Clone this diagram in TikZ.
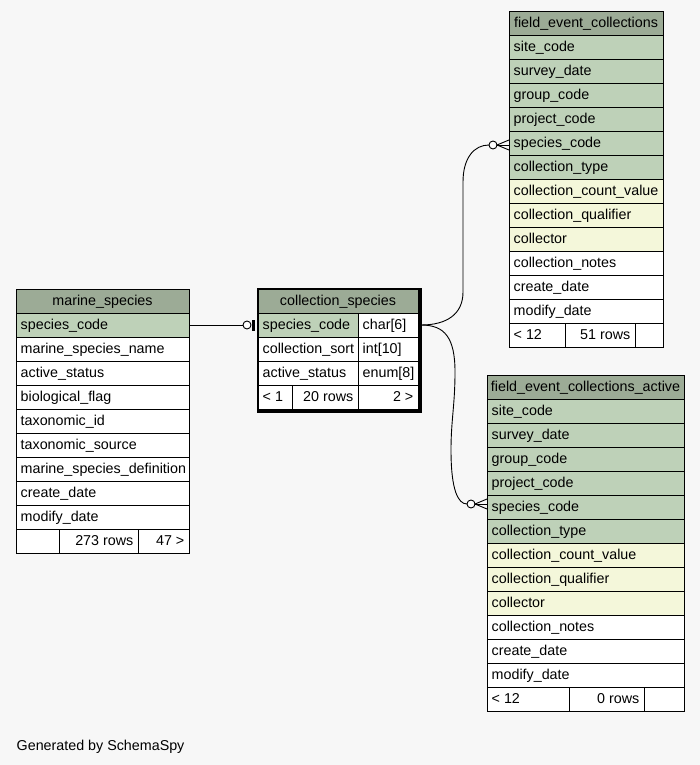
\documentclass[tikz,border=0pt]{standalone}
\usepackage{fontspec}
\setmainfont{Liberation Sans}
\definecolor{bgc}{HTML}{F7F7F7}
\definecolor{headc}{HTML}{9CAB96}
\definecolor{keyc}{HTML}{BED1B8}
\definecolor{idxc}{HTML}{F4F7DA}
\tikzset{
 cell/.style={draw=black, line width=0.8pt, minimum height=24pt, inner sep=0pt, outer sep=0pt, anchor=north west},
 txt/.style={inner sep=0pt, text height=11.5pt, text depth=3pt, font=\fontsize{14.3pt}{16pt}\selectfont},
 edge/.style={draw=black, line width=0.9pt},
 odot/.style={circle, draw=black, fill=white, line width=0.9pt, minimum size=8pt, inner sep=0pt, outer sep=0pt},
 thickbox/.style={draw=black, line width=2.6pt, inner sep=0pt, anchor=north west},
}
\newcommand{\cellL}[6]{\node[cell, fill=#5, minimum width=#4pt] (#1) at (#2,#3) {};
  \node[txt, anchor=west] (#1t) at ([xshift=4.5pt]#1.west) {#6};}
\newcommand{\cellR}[6]{\node[cell, fill=#5, minimum width=#4pt] (#1) at (#2,#3) {};
  \node[txt, anchor=east] (#1t) at ([xshift=-4.5pt]#1.east) {#6};}
\newcommand{\cellC}[6]{\node[cell, fill=#5, minimum width=#4pt] (#1) at (#2,#3) {};
  \node[txt] (#1t) at (#1.center) {#6};}
\newcommand{\cellE}[5]{\node[cell, fill=#5, minimum width=#4pt] (#1) at (#2,#3) {};}
\begin{document}
\begin{tikzpicture}[x=1pt,y=-1pt]
\useasboundingbox (0,0) rectangle (700,765);
\fill[bgc] (0,0) rectangle (700,765);

% marine_species
\cellC{msH}{16}{289}{173}{headc}{marine\_species}
\cellL{msA}{16}{313}{173}{keyc}{species\_code}
\cellL{msB}{16}{337}{173}{white}{marine\_species\_name}
\cellL{msC}{16}{361}{173}{white}{active\_status}
\cellL{msD}{16}{385}{173}{white}{biological\_flag}
\cellL{msE}{16}{409}{173}{white}{taxonomic\_id}
\cellL{msF}{16}{433}{173}{white}{taxonomic\_source}
\cellL{msG}{16}{457}{173}{white}{marine\_species\_definition}
\cellL{msI}{16}{481}{173}{white}{create\_date}
\cellL{msJ}{16}{505}{173}{white}{modify\_date}
\cellE{msFa}{16}{529}{43}{white}
\cellR{msFb}{59}{529}{79}{white}{273 rows}
\cellR{msFc}{138}{529}{51}{white}{47 >}

% collection_species
\cellC{csH}{258}{289}{160}{headc}{collection\_species}
\cellL{csA}{258}{313}{100}{keyc}{species\_code}
\cellL{csTa}{358}{313}{60}{white}{char[6]}
\cellL{csB}{258}{337}{100}{white}{collection\_sort}
\cellL{csTb}{358}{337}{60}{white}{int[10]}
\cellL{csC}{258}{361}{100}{white}{active\_status}
\cellL{csTc}{358}{361}{60}{white}{enum[8]}
\cellL{csFa}{258}{385}{34}{white}{< 1}
\cellR{csFb}{292}{385}{66}{white}{20 rows}
\cellR{csFc}{358}{385}{60}{white}{2 >}
\node[thickbox, minimum width=162.6pt, minimum height=122.6pt] (csBox) at (256.7,287.7) {};

% field_event_collections
\cellC{feH}{509}{11}{154}{headc}{field\_event\_collections}
\cellL{feA}{509}{35}{154}{keyc}{site\_code}
\cellL{feB}{509}{59}{154}{keyc}{survey\_date}
\cellL{feC}{509}{83}{154}{keyc}{group\_code}
\cellL{feD}{509}{107}{154}{keyc}{project\_code}
\cellL{feE}{509}{131}{154}{keyc}{species\_code}
\cellL{feF}{509}{155}{154}{keyc}{collection\_type}
\cellL{feG}{509}{179}{154}{idxc}{collection\_count\_value}
\cellL{feI}{509}{203}{154}{idxc}{collection\_qualifier}
\cellL{feJ}{509}{227}{154}{idxc}{collector}
\cellL{feK}{509}{251}{154}{white}{collection\_notes}
\cellL{feL}{509}{275}{154}{white}{create\_date}
\cellL{feM}{509}{299}{154}{white}{modify\_date}
\cellL{feFa}{509}{323}{56}{white}{< 12}
\cellR{feFb}{565}{323}{70}{white}{51 rows}
\cellE{feFc}{635}{323}{28}{white}

% field_event_collections_active
\cellC{faH}{487}{375}{197}{headc}{field\_event\_collections\_active}
\cellL{faA}{487}{399}{197}{keyc}{site\_code}
\cellL{faB}{487}{423}{197}{keyc}{survey\_date}
\cellL{faC}{487}{447}{197}{keyc}{group\_code}
\cellL{faD}{487}{471}{197}{keyc}{project\_code}
\cellL{faE}{487}{495}{197}{keyc}{species\_code}
\cellL{faF}{487}{519}{197}{keyc}{collection\_type}
\cellL{faG}{487}{543}{197}{idxc}{collection\_count\_value}
\cellL{faI}{487}{567}{197}{idxc}{collection\_qualifier}
\cellL{faJ}{487}{591}{197}{idxc}{collector}
\cellL{faK}{487}{615}{197}{white}{collection\_notes}
\cellL{faL}{487}{639}{197}{white}{create\_date}
\cellL{faM}{487}{663}{197}{white}{modify\_date}
\cellL{faFa}{487}{687}{82}{white}{< 12}
\cellR{faFb}{569}{687}{75}{white}{0 rows}
\cellE{faFc}{644}{687}{40}{white}

% connector marine_species -> collection_species
\node[odot] (o0) at (247,325) {};
\draw[edge] (msA.east) -- (o0.west);
\coordinate (t0a) at (253.8,320);
\coordinate (t0b) at (253.8,330.5);
\draw[line width=3pt] (t0a) -- (t0b);

% connectors collection_species -> field_event tables
\coordinate (s1) at ([xshift=3pt]csTa.east);
\node[odot] (o1) at (493,145) {};
\node[odot] (o2) at (471,504) {};
\draw[edge] (s1) .. controls (447,325) and (463,314) .. (463,292) -- (463,182)
  .. controls (463,158) and (474,145) .. (o1.west);
\draw[edge] (s1) .. controls (445,325) and (455,338) .. (455,372)
  .. controls (455,405) and (451,420) .. (451,450)
  .. controls (451,490) and (458,504) .. (o2.west);
% crow's feet
\coordinate (k1a) at (509,140);
\coordinate (k1b) at (509,145);
\coordinate (k1c) at (509,150);
\draw[edge] (k1a) -- (o1.east) -- (k1c);
\draw[edge] (o1.east) -- (k1b);
\coordinate (k2a) at (487,499);
\coordinate (k2b) at (487,504);
\coordinate (k2c) at (487,509);
\draw[edge] (k2a) -- (o2.east) -- (k2c);
\draw[edge] (o2.east) -- (k2b);

\node[txt, anchor=base west] (gen) at (16.5,750.5) {Generated by SchemaSpy};
\end{tikzpicture}
\end{document}
